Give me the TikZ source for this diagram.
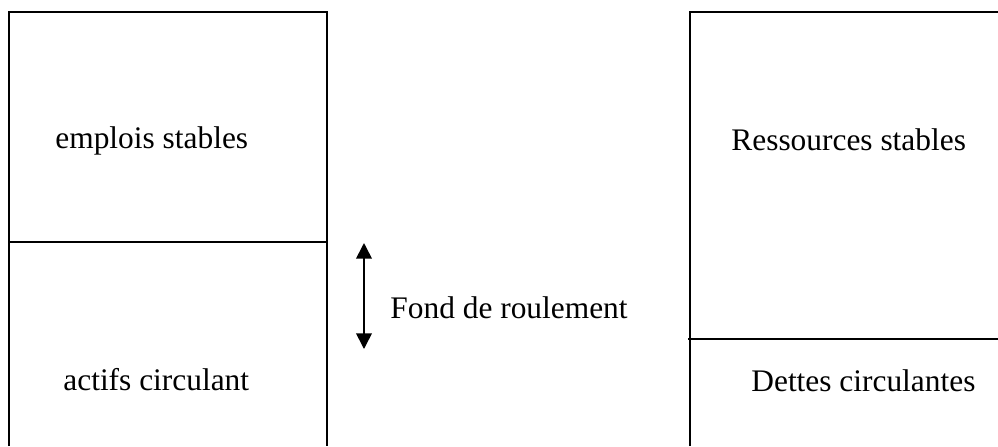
\documentclass[tikz,border=0pt]{standalone}
\usepackage{fontspec}
\setmainfont{Liberation Serif}
\usetikzlibrary{arrows.meta}

\begin{document}
\begin{tikzpicture}[
  x=0.5pt,y=-0.5pt,
  cadre/.style={line width=1pt},
  poste/.style={anchor=base west,inner sep=0pt,font=\fontsize{15.7}{19}\selectfont},
  fleche/.style={line width=0.8pt,{Triangle[width=7.8pt,length=7.8pt]}-{Triangle[width=7.8pt,length=7.8pt]}}
]
  \useasboundingbox (0,0) rectangle (998,446);
  % actif
  \draw[cadre] (9,446) -- (9,12) -- (327,12) -- (327,446);
  \draw[cadre] (9,242) -- (327,242);
  \node[poste] (es) at (55,148) {emplois stables};
  \node[poste] (ac) at (63,390) {actifs circulant};
  % passif
  \draw[cadre] (690,446) -- (690,12) -- (998,12);
  \draw[cadre] (688,339) -- (998,339);
  \node[poste] (rs) at (731,150) {Ressources stables};
  \node[poste] (dc) at (751,391) {Dettes circulantes};
  % fonds de roulement
  \coordinate (frhaut) at (364,243);
  \coordinate (frbas) at (364,349);
  \draw[fleche] (frhaut) -- (frbas);
  \node[poste] (fr) at (390,318) {Fond de roulement};
\end{tikzpicture}
\end{document}
